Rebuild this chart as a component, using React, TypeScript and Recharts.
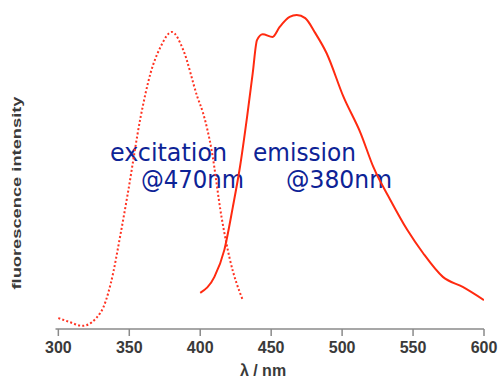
import { LineChart, Line, XAxis, YAxis, Customized } from 'recharts'

// wavelengths (nm) and relative intensity
const excitationNm = [300, 308, 317, 330, 337, 344, 349, 358, 365, 372, 380, 388, 398, 402, 408, 415, 421, 430]
const excitationValues = [3.5, 2.2, 1.0, 5.4, 14.6, 30.6, 43.3, 67.5, 81.5, 89.8, 94.6, 88.9, 73.9, 68.8, 57.0, 35.7, 22.0, 9.2]

const emissionNm = [400, 410, 417, 423, 428, 433, 437, 440, 444, 451, 456, 463, 468, 474, 481, 489, 501, 513, 522, 534, 546, 557, 571, 585, 600]
const emissionValues = [11.5, 16.6, 25.2, 38.9, 51.6, 67.5, 81.5, 92.0, 93.9, 93.0, 96.2, 99.4, 100, 99.0, 94.3, 87.9, 73.9, 62.4, 51.6, 41.1, 31.5, 24.2, 16.6, 13.4, 9.2]

const wavelengthTicks = [300, 350, 400, 450, 500, 550, 600]

const excitationData = excitationNm.map((nm, i) => ({ nm, value: excitationValues[i] }))
const emissionData = emissionNm.map((nm, i) => ({ nm, value: emissionValues[i] }))

const axisColor = '#8a8a8a'
const labelFont = '"Liberation Sans", Arial, sans-serif'
const noteFont = '"Comic Sans MS", "DejaVu Sans", sans-serif'
const noteColor = '#0d2396'

function Annotations() {
  return (
    <g>
      <text
        x={21}
        y={193}
        transform="rotate(-90 21 193)"
        textAnchor="middle"
        fontFamily={labelFont}
        fontWeight="bold"
        fontSize={13}
        fill="#3a3a3a"
        textLength={193}
        lengthAdjust="spacingAndGlyphs"
      >
        fluorescence intensity
      </text>
      <text x={263} y={376} textAnchor="middle" fontFamily={labelFont} fontWeight="bold" fontSize={16} fill="#3a3a3a">
        λ / nm
      </text>
      <g fontFamily={noteFont} fontSize={24} fill={noteColor}>
        <text x={110} y={161} textLength={117} lengthAdjust="spacingAndGlyphs">excitation</text>
        <text x={141} y={188} textLength={103} lengthAdjust="spacingAndGlyphs">@470nm</text>
        <text x={253} y={161} textLength={103} lengthAdjust="spacingAndGlyphs">emission</text>
        <text x={286} y={188} textLength={106} lengthAdjust="spacingAndGlyphs">@380nm</text>
      </g>
    </g>
  )
}

export default function App() {
  return (
    <div style={{ position: 'absolute', left: 0, top: 0, width: 498, height: 379, background: '#fff' }}>
      <LineChart width={498} height={379} margin={{ top: 15, right: 14, left: 55.5, bottom: 0 }}>
        <XAxis
          type="number"
          dataKey="nm"
          domain={[298, 600]}
          ticks={wavelengthTicks}
          allowDataOverflow
          height={50}
          tickSize={7}
          tickMargin={6}
          stroke={axisColor}
          strokeWidth={1.5}
          tick={{ fill: '#3a3a3a', fontSize: 16, fontWeight: 'bold', fontFamily: labelFont }}
        />
        <YAxis
          type="number"
          domain={[0, 100]}
          width={0}
          tick={false}
          tickLine={false}
          stroke={axisColor}
          strokeWidth={1.5}
        />
        <Line
          data={excitationData}
          dataKey="value"
          type="monotone"
          stroke="#ff3322"
          strokeWidth={2}
          strokeDasharray="2 2.2"
          dot={false}
          isAnimationActive={false}
        />
        <Line
          data={emissionData}
          dataKey="value"
          type="monotone"
          stroke="#ff2a10"
          strokeWidth={2}
          dot={false}
          isAnimationActive={false}
        />
        <Customized component={Annotations} />
      </LineChart>
    </div>
  )
}
